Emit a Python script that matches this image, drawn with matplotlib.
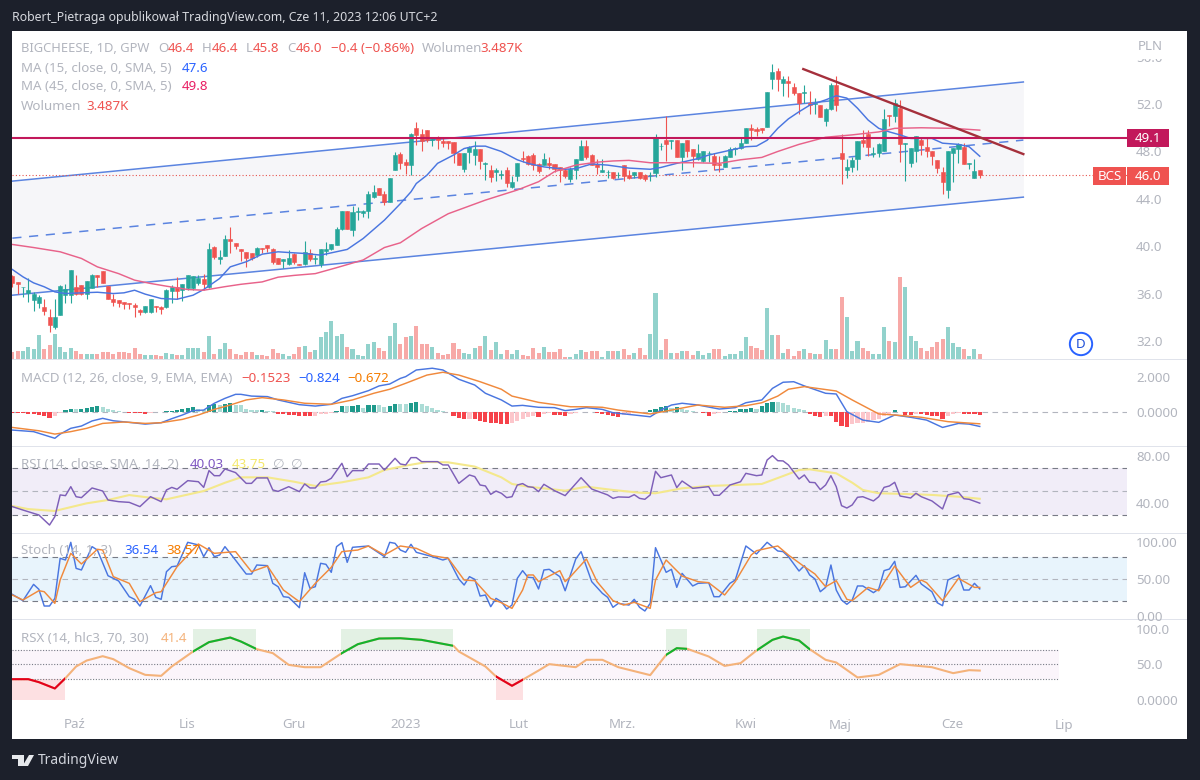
import matplotlib
matplotlib.use("Agg")
from matplotlib import pyplot as plt
from matplotlib.patches import Rectangle, Polygon

plt.rcParams['font.family'] = ['Noto Sans', 'DejaVu Sans']

GREEN = '#26a69a'
RED = '#ef5350'
GREY = '#b2b5be'

# candles
opens = [37.5, 37.0, 36.55, 36.1, 35.5, 35.2, 34.9, 34.0, 33.2, 34.2, 35.9, 35.9, 36.6, 36.7, 36.0, 36.5, 37.55, 37.9, 36.65, 35.55,
         35.45, 35.3, 35.25, 35.05, 34.6, 34.45, 34.5, 35.0, 34.9, 34.9, 36.2, 36.6, 36.3, 36.45, 36.5, 36.9, 37.25, 36.6, 39.95, 38.95,
         39.15, 40.6, 40.25, 39.8, 39.55, 39.45, 39.25, 39.9, 40.1, 39.75, 39.0, 38.8, 38.5, 39.35, 38.5, 38.5, 39.4, 38.95, 38.55, 39.6,
         39.75, 40.15, 41.45, 43.0, 41.4, 42.9, 42.85, 42.95, 44.2, 44.95, 44.4, 43.7, 46.45, 47.75, 47.1, 46.9, 49.95, 49.47, 49.8, 48.95,
         49.15, 48.9, 48.88, 48.8, 47.9, 46.5, 47.95, 47.7, 48.2, 46.95, 46.45, 46.25, 46.0, 46.45, 45.0, 45.9, 47.45, 47.6, 47.7, 46.95,
         46.9, 47.0, 46.95, 46.65, 46.4, 45.7, 46.45, 47.3, 48.45, 47.7, 46.95, 46.3, 46.25, 46.3, 46.0, 46.9, 46.05, 46.0, 46.25, 46.0,
         45.98, 46.15, 48.45, 48.95, 48.9, 48.95, 47.5, 48.95, 48.2, 47.35, 47.2, 47.85, 47.65, 46.95, 46.7, 47.55, 48.25, 48.3, 48.75, 50.0,
         49.9, 49.95, 50.1, 54.15, 54.8, 53.75, 53.95, 53.4, 52.95, 52.95, 52.1, 52.0, 51.95, 50.55, 51.55, 53.6, 47.9, 46.45, 46.65, 47.35,
         49.0, 49.5, 47.8, 47.9, 48.05, 51.1, 51.0, 51.65, 48.65, 47.0, 48.0, 48.95, 48.4, 48.0, 47.25, 46.3, 44.75, 47.9, 48.2, 48.4,
         46.95, 45.75, 46.4]
highs = [37.6, 37.0, 36.6, 37.3, 36.15, 35.9, 35.6, 34.75, 35.6, 36.7, 36.85, 38.0, 37.55, 36.75, 37.1, 37.7, 37.6, 37.9, 36.65, 36.0,
         35.5, 35.3, 35.25, 35.2, 34.75, 34.95, 35.6, 35.0, 34.95, 36.4, 36.7, 37.4, 36.8, 37.6, 37.5, 37.55, 37.7, 40.25, 40.0, 39.7,
         40.95, 41.65, 40.25, 39.8, 39.55, 39.45, 39.95, 39.9, 40.15, 39.9, 39.0, 38.9, 39.7, 39.4, 38.55, 40.45, 39.8, 39.25, 39.75, 40.4,
         40.2, 41.65, 43.0, 43.0, 43.4, 43.3, 43.05, 44.7, 45.2, 44.95, 44.7, 45.75, 47.95, 47.95, 47.35, 49.6, 50.45, 49.87, 49.8, 49.2,
         49.3, 49.1, 48.9, 48.8, 47.9, 47.85, 48.45, 48.9, 48.2, 47.1, 46.9, 46.6, 46.4, 46.7, 45.9, 47.0, 48.0, 47.7, 47.85, 47.0,
         47.9, 47.55, 46.95, 46.65, 46.5, 46.65, 47.35, 48.95, 48.95, 47.75, 47.4, 47.4, 46.45, 46.3, 46.3, 46.9, 46.45, 46.3, 46.25, 46.1,
         46.25, 49.45, 48.75, 50.95, 49.0, 49.0, 48.7, 48.95, 48.25, 48.6, 48.0, 48.0, 47.85, 47.65, 47.7, 48.35, 48.4, 49.1, 50.0, 50.3,
         50.1, 49.95, 53.0, 55.35, 55.0, 54.35, 54.35, 53.75, 52.95, 53.6, 53.1, 52.55, 51.95, 51.65, 53.8, 54.35, 49.45, 47.35, 47.5, 48.9,
         49.8, 49.8, 48.4, 48.7, 51.6, 51.1, 52.4, 52.35, 48.7, 48.3, 49.3, 49.1, 49.25, 48.0, 47.25, 46.7, 48.0, 48.3, 48.7, 48.75,
         47.0, 47.35, 46.4]
lows = [36.6, 36.0, 35.7, 35.3, 34.55, 34.8, 34.2, 32.8, 33.0, 34.2, 35.2, 35.2, 35.9, 35.9, 35.6, 36.45, 36.6, 36.9, 35.55, 35.0,
        34.9, 34.75, 34.7, 34.05, 34.2, 34.4, 34.4, 34.45, 34.3, 34.8, 35.2, 35.6, 35.4, 36.3, 36.3, 36.7, 36.35, 36.5, 38.95, 38.55,
        39.15, 39.4, 39.8, 38.8, 38.3, 38.85, 39.1, 39.4, 39.55, 38.55, 38.5, 38.15, 38.4, 38.55, 38.4, 38.4, 38.8, 38.55, 38.3, 39.25,
        39.7, 40.1, 41.4, 41.5, 40.85, 42.2, 42.5, 42.35, 44.1, 44.3, 43.5, 43.7, 46.45, 46.55, 46.1, 46.0, 48.55, 48.03, 48.8, 48.45,
        48.25, 48.4, 48.25, 47.0, 46.85, 46.3, 47.0, 46.9, 46.5, 45.6, 45.4, 45.55, 45.7, 45.0, 44.95, 45.5, 47.1, 46.85, 46.45, 46.15,
        46.85, 46.5, 46.3, 45.45, 45.8, 45.45, 45.65, 47.3, 47.4, 46.85, 46.1, 46.3, 45.8, 45.65, 45.75, 45.55, 45.7, 45.75, 45.7, 45.5,
        45.55, 45.87, 48.1, 47.2, 48.25, 47.5, 46.45, 47.5, 46.7, 47.3, 47.15, 47.15, 46.4, 46.3, 46.7, 47.5, 47.7, 48.25, 48.7, 49.0,
        49.3, 49.6, 50.1, 53.3, 53.1, 52.65, 52.6, 52.75, 51.2, 52.1, 51.2, 51.2, 50.9, 50.15, 51.5, 51.4, 45.25, 45.8, 46.3, 46.45,
        48.4, 47.6, 47.5, 47.5, 48.05, 50.15, 50.5, 47.15, 45.5, 46.7, 47.15, 47.7, 47.55, 46.85, 46.15, 44.45, 44.1, 45.45, 47.0, 46.95,
        46.5, 45.75, 45.8]
closes = [36.9, 36.8, 36.6, 36.3, 36.0, 35.7, 34.55, 33.35, 34.0, 36.65, 36.4, 38.0, 36.0, 36.0, 37.05, 37.6, 37.4, 36.9, 35.6, 35.3,
          35.2, 35.1, 35.1, 34.9, 34.45, 34.95, 35.6, 34.85, 34.75, 36.3, 36.6, 36.25, 36.8, 37.6, 37.5, 37.3, 36.8, 39.75, 39.1, 39.1,
          40.6, 40.45, 40.0, 39.6, 39.0, 39.0, 39.9, 39.75, 39.9, 38.7, 38.5, 38.9, 39.0, 38.7, 38.45, 39.5, 38.9, 39.05, 39.75, 39.8,
          40.2, 41.5, 43.0, 41.5, 42.9, 43.0, 43.0, 44.45, 44.6, 44.3, 43.75, 45.75, 47.7, 47.0, 46.9, 49.45, 49.4, 48.9, 48.97, 49.05,
          49.0, 48.7, 48.75, 47.85, 46.85, 47.85, 48.35, 48.2, 47.2, 47.0, 45.85, 46.45, 46.1, 45.3, 45.45, 47.0, 47.35, 46.95, 46.9, 46.35,
          47.35, 46.9, 46.5, 46.4, 45.9, 46.55, 47.35, 48.45, 47.55, 46.9, 46.65, 46.4, 46.3, 45.75, 46.05, 45.9, 45.8, 46.25, 45.75, 45.65,
          46.05, 49.2, 48.5, 48.6, 48.95, 47.5, 48.7, 48.05, 47.6, 47.9, 48.0, 47.9, 46.9, 46.9, 47.6, 48.25, 48.3, 48.7, 49.95, 49.85,
          49.7, 49.85, 53.0, 54.7, 54.1, 54.1, 53.75, 52.9, 52.05, 53.0, 51.95, 52.05, 50.9, 51.6, 53.6, 51.9, 47.35, 46.65, 47.3, 48.9,
          48.75, 48.35, 47.9, 48.6, 50.75, 51.0, 52.05, 48.6, 48.7, 48.3, 49.3, 48.55, 48.0, 47.6, 46.6, 45.45, 48.0, 48.3, 48.6, 46.95,
          47.0, 46.35, 46.0]

# volume in thousands
volume = [4.8, 5.4, 5.4, 8.0, 6.5, 15.7, 6.5, 9.1, 16.3, 7.6, 4.3, 7.0, 5.4, 3.3, 3.3, 3.3, 3.3, 4.3, 4.3, 3.3,
          4.3, 4.3, 3.9, 7.0, 3.3, 2.8, 2.8, 2.8, 1.7, 3.9, 3.3, 2.6, 2.6, 7.0, 7.0, 7.4, 4.8, 15.2, 3.3, 6.5,
          10.4, 6.5, 3.3, 2.6, 4.3, 4.3, 2.6, 2.6, 2.2, 6.5, 3.9, 3.3, 2.2, 3.3, 7.6, 8.7, 4.3, 6.1, 14.1, 17.4,
          25.0, 15.2, 16.3, 8.0, 6.5, 2.6, 2.2, 9.8, 10.9, 7.0, 5.4, 15.2, 23.5, 9.8, 14.6, 15.2, 21.7, 9.8, 9.8, 8.0,
          3.7, 2.6, 3.3, 10.2, 6.3, 4.1, 3.3, 7.0, 8.5, 15.0, 5.9, 11.3, 3.3, 5.9, 3.3, 5.7, 2.6, 2.0, 7.0, 3.7,
          8.0, 4.6, 4.3, 6.3, 1.1, 1.5, 3.3, 5.9, 4.3, 5.4, 5.2, 1.5, 5.4, 5.2, 5.2, 6.3, 2.4, 3.7, 7.0, 2.6,
          16.3, 43.3, 5.9, 12.8, 3.7, 3.7, 5.0, 5.0, 2.6, 5.0, 2.6, 3.7, 6.5, 6.5, 2.0, 3.3, 3.3, 5.0, 14.6, 8.7,
          7.4, 5.9, 33.0, 15.7, 15.7, 4.1, 6.3, 2.0, 5.0, 6.3, 3.7, 3.3, 3.3, 12.4, 6.3, 6.3, 40.7, 27.6, 5.0, 11.9,
          7.0, 5.0, 3.3, 3.3, 20.7, 11.9, 10.9, 53.3, 46.8, 15.3, 11.9, 7.0, 5.4, 8.1, 11.0, 12.8, 21.2, 10.3, 7.6, 6.3,
          2.0, 6.3, 3.487]

# moving averages, vertices of the lines
ma15_x = [0, 2, 4, 6, 8, 10, 13, 16, 19, 21, 23, 25, 28, 31, 34, 36, 39, 41, 44, 47, 50, 52, 55, 58, 63, 66, 70, 73, 75, 76, 78,
          80, 83, 85, 87, 89, 92, 95, 97, 100, 104, 106, 109, 112, 116, 120, 122, 125, 129, 131, 135, 138, 140, 142, 144, 146, 148,
          150, 153, 155, 157, 159, 161, 163, 165, 167, 169, 173, 175, 178, 180, 182]
ma15_y = [38.05, 37.43, 36.92, 36.59, 36.16, 36.02, 36.08, 36.13, 36.02, 36.08, 36.3, 35.97, 35.6, 35.54, 35.88, 36.36, 37.29, 38.27,
          38.7, 39.34, 39.54, 39.48, 39.4, 39.26, 39.74, 40.66, 42.21, 43.6, 44.6, 45.3, 46.0, 47.0, 47.7, 48.25, 48.45, 48.45, 48.0,
          47.3, 47.0, 46.7, 46.5, 46.55, 46.95, 46.85, 46.6, 46.5, 46.65, 47.0, 47.4, 47.7, 48.1, 48.4, 48.45, 48.95, 49.95, 50.75, 51.35,
          51.9, 52.35, 52.7, 52.5, 51.65, 50.65, 49.95, 49.65, 49.4, 49.1, 49.1, 48.7, 48.6, 48.4, 47.6]
ma45_x = [0, 4, 9, 13, 16, 20, 23, 26, 29, 33, 36, 40, 43, 47, 50, 53, 57, 61, 66, 70, 73, 77, 82, 89, 95, 99, 102, 106, 110, 113,
          116, 120, 124, 128, 133, 137, 141, 144, 148, 153, 158, 163, 166, 171, 177, 182]
ma45_y = [40.16, 39.9, 39.54, 38.98, 38.27, 37.7, 37.15, 36.87, 36.64, 36.36, 36.3, 36.6, 36.8, 37.0, 37.4, 37.55, 37.7, 38.2, 38.85,
          39.9, 40.3, 41.5, 42.75, 43.9, 44.75, 45.45, 46.3, 46.85, 47.1, 47.2, 47.25, 47.05, 47.05, 47.05, 47.0, 47.3, 47.5, 48.0, 48.6,
          49.2, 49.4, 49.65, 49.95, 50.0, 49.95, 49.8]

# drawn channel and trend line: idx, price
channel_x = [0, 190.2]
channel_up = [45.5, 53.86]
channel_mid = [40.69, 48.96]
channel_low = [35.88, 44.15]
trend_x = [148.8, 190.2]
trend_y = [54.95, 47.78]
level_price = 49.1
last_price = 46.0

# MACD
macd_x = [0, 4, 6, 8, 9, 11, 13, 15, 17, 19, 22, 25, 28, 30, 32, 34, 36, 38, 40, 42, 43, 45, 48, 50, 54, 57, 60, 62, 64, 67, 69, 71,
          73, 74, 76, 79, 81, 84, 87, 89, 92, 94, 96, 99, 102, 104, 106, 108, 111, 113, 117, 120, 122, 124, 126, 129, 133, 136, 138, 141,
          143, 145, 147, 149, 153, 155, 157, 160, 163, 166, 169, 172, 175, 178, 180, 182]
macd_y = [-1.03, -1.12, -1.31, -1.5, -1.26, -0.93, -0.8, -0.51, -0.36, -0.5, -0.59, -0.69, -0.61, -0.38, -0.17, 0.08, 0.11, 0.5, 0.78,
          1.01, 1.01, 0.91, 0.88, 0.69, 0.42, 0.34, 0.44, 0.78, 0.93, 1.22, 1.49, 1.6, 1.92, 2.02, 2.4, 2.5, 2.4, 1.87, 1.54, 1.07, 0.69,
          0.34, 0.38, 0.27, 0.25, 0.08, 0.15, 0.25, 0.15, -0.04, -0.17, -0.27, 0.11, 0.4, 0.5, 0.4, 0.17, 0.25, 0.53, 0.69, 1.35, 1.7, 1.73,
          1.49, 1.07, 1.03, 0.02, -0.46, -0.59, -0.17, -0.3, -0.46, -0.88, -0.65, -0.69, -0.824]
signal_x = [0, 5, 8, 11, 14, 17, 21, 25, 28, 32, 35, 38, 41, 44, 47, 51, 55, 60, 64, 68, 71, 74, 78, 81, 84, 88, 92, 94, 99, 105, 108,
            111, 114, 120, 124, 129, 134, 138, 141, 144, 146, 149, 155, 158, 163, 166, 171, 176, 182]
signal_y = [-0.88, -1.07, -1.26, -1.12, -0.93, -0.65, -0.57, -0.65, -0.61, -0.42, -0.17, 0.15, 0.4, 0.69, 0.82, 0.69, 0.5, 0.44, 0.69,
            1.07, 1.3, 1.64, 2.11, 2.27, 2.11, 1.73, 1.3, 0.91, 0.55, 0.3, 0.3, 0.27, 0.11, -0.11, 0.11, 0.4, 0.27, 0.36, 0.53, 0.91, 1.3,
            1.45, 1.2, 0.69, -0.11, -0.17, -0.3, -0.55, -0.672]
macd_hist = [-.04, -.04, -.04, -.1, -.12, -.15, -.2, -.33, -.2, -.06, .12, .19, .18, .18, .23, .27, .35, .27, .19, .1,
             .06, 0, -.03, -.06, -.06, -.1, -.04, -.02, .01, .03, .06, .12, .19, .23, .3, .2, .1, .42, .45, .38,
             .45, .5, .42, .38, .2, .13, .1, .1, .08, .03, -.1, -.13, -.15, -.17, -.2, -.25, -.25, -.2, -.1, -.09,
             -.03, .05, .37, .35, .37, .38, .25, .38, .39, .38, .3, .35, .45, .44, .43, .5, .55, .45, .35, .25,
             .1, .05, .02, -.2, -.35, -.4, -.39, -.41, -.5, -.55, -.6, -.65, -.66, -.67, -.6, -.5, -.4, -.3, -.2, -.3,
             -.1, -.08, -.18, -.19, -.25, -.1, -.03, .02, .01, 0, -.08, -.1, -.15, -.25, -.26, -.15, -.1, -.08, -.05, -.02,
             .1, .2, .3, .35, .25, .26, .15, .1, .05, .02, -.08, -.2, -.1, -.05, .02, .04, .08, .15, .2, .21,
             .15, .35, .5, .6, .59, .5, .4, .25, .15, .1, -.1, -.2, -.3, -.2, -.25, -.55, -.8, -.85, -.7, -.65,
             -.6, -.55, -.45, -.4, -.2, -.1, .1, -.02, -.15, -.16, -.1, -.12, -.15, -.2, -.25, -.4, -.2, -.1, -.05, -.1,
             -.12, -.14, -.1523]

# RSI
rsi_x = [0, 2, 5, 7, 8, 9, 10, 11, 12, 13, 15, 17, 18, 20, 22, 24, 26, 28, 29, 30, 31, 33, 35, 36, 37, 38, 39, 40, 42, 44, 45, 46, 48,
         49, 50, 52, 54, 55, 56, 57, 58, 59, 60, 62, 63, 64, 66, 67, 69, 70, 72, 73, 74, 75, 76, 77, 80, 81, 82, 84, 86, 87, 88, 89, 90,
         91, 92, 93, 94, 95, 96, 97, 98, 99, 100, 102, 104, 107, 109, 112, 113, 114, 116, 117, 118, 119, 120, 121, 122, 124, 125, 126, 128,
         131, 132, 133, 135, 137, 138, 140, 141, 142, 143, 144, 145, 146, 148, 149, 150, 151, 152, 153, 154, 155, 156, 157, 158, 159, 160,
         162, 163, 164, 165, 166, 167, 169, 170, 171, 173, 175, 176, 178, 179, 180, 182]
rsi_y = [37.1, 34.2, 30, 21.5, 28.6, 47, 46.4, 54, 45.5, 44.7, 52.9, 50.3, 42.7, 41.3, 40.7, 37.1, 45.5, 41.3, 51.2, 53.4, 51.8, 59.1, 58.2,
         53.4, 67.6, 63.3, 63.3, 69, 65.9, 56.8, 56.8, 61.4, 61.4, 51.2, 50, 54, 49.8, 56.3, 52.9, 52.9, 58, 58.5, 61.1, 73.8, 62.5, 67.6,
         67.6, 73.2, 73.2, 68.1, 78, 73.2, 72.4, 78.6, 78.6, 75.2, 75.2, 72.4, 72.4, 56.8, 63.9, 62.5, 55.4, 54.6, 47.5, 50.3, 48.4, 44.7,
         45.5, 55.4, 56.6, 54, 53.4, 49.8, 56, 50.6, 46.4, 61.6, 52, 47, 44.1, 45.3, 45, 47.2, 44.1, 43.3, 47, 67, 61.6, 63.9, 53.2, 58.8,
         52.6, 54, 46.7, 46.7, 55.4, 58.2, 65.3, 63.3, 63.9, 76.6, 80.3, 76, 75.8, 72.4, 60.5, 63.9, 57.7, 57.4, 51.5, 55.4, 63.3, 54, 37.9,
         35.9, 38.5, 45, 45.5, 41.9, 45.5, 53.4, 54.6, 57.7, 46.1, 44.4, 48.4, 45.5, 41.9, 35.1, 47, 49.2, 43.8, 43.3, 40.03]
rsi_ma_x = [0, 3, 8, 10, 14, 18, 22, 26, 29, 32, 36, 40, 43, 48, 53, 57, 62, 67, 70, 74, 78, 82, 87, 92, 94, 97, 104, 108, 113, 118, 121,
            126, 131, 136, 141, 145, 148, 150, 155, 158, 160, 163, 168, 173, 178, 182]
rsi_ma_y = [37.6, 35, 33.4, 35.6, 39.9, 42.7, 46.9, 44.6, 43.3, 46.3, 50.3, 57.3, 61.9, 61.9, 58.2, 54.6, 57.7, 61.9, 68.1, 71.8, 74.9, 74.6,
            71, 61.9, 56.3, 54, 50.6, 54, 51.2, 48.9, 48.4, 52.6, 54.6, 55.4, 56.3, 63, 68.1, 68.7, 65.3, 57.4, 51.2, 48.4, 47.8, 47, 45.5, 43.75]

# Stochastic
stoch_k_x = [0, 2, 4, 5, 6, 7, 8, 9, 10, 11, 12, 13, 15, 16, 18, 19, 20, 22, 23, 24, 26, 27, 28, 29, 30, 31, 33, 35, 36, 37, 38, 39, 40, 41,
             44, 45, 46, 48, 49, 50, 51, 52, 54, 55, 56, 57, 58, 59, 60, 61, 62, 63, 64, 67, 70, 71, 72, 73, 74, 75, 76, 79, 81, 82, 84, 85,
             86, 87, 88, 89, 90, 91, 92, 93, 94, 95, 96, 97, 98, 99, 100, 101, 103, 104, 106, 107, 109, 111, 112, 113, 114, 116, 117, 118,
             119, 120, 121, 123, 124, 125, 126, 128, 129, 131, 132, 133, 135, 136, 138, 140, 142, 144, 145, 146, 148, 149, 150, 151, 152,
             153, 154, 155, 156, 157, 158, 159, 160, 162, 163, 164, 165, 166, 167, 168, 170, 171, 173, 174, 175, 176, 178, 179, 180, 181, 182]
stoch_k_y = [29.1, 20.5, 42.7, 35.9, 13.2, 13.2, 23.6, 78.2, 75.9, 100, 64.5, 62.3, 94.1, 89.5, 54.5, 50.9, 47.3, 25.9, 22.3, 13.2, 40.9, 25,
             22.3, 60, 66.8, 67.7, 100, 96.4, 80.5, 92.7, 80.5, 82.7, 94.1, 85, 56.8, 56.8, 69.1, 68.2, 44.1, 39.5, 25.9, 25, 10.9, 58.6, 37.3,
             39.5, 71.4, 70, 59.1, 94.1, 99.5, 72.7, 93.2, 95, 80.5, 100, 98.6, 89.5, 86.4, 97.3, 86.4, 80.5, 75.9, 78.2, 50, 41.8, 53.2, 49.5,
             26.8, 28.2, 12.3, 23.6, 19.1, 9.1, 14.5, 50.9, 61.4, 52.3, 51.8, 36.4, 62.3, 63.2, 53.2, 34, 77.3, 87.3, 46.4, 30.5, 25, 11.4, 16.8,
             14.5, 22.3, 11.4, 6.4, 16.8, 92.7, 59.1, 63.2, 38.6, 57.7, 40.5, 44.1, 45, 25.9, 25.9, 44.1, 48.6, 95, 84.1, 100, 88.2, 87.3, 80.5,
             60.9, 68.2, 55.5, 50, 32.7, 38.6, 69.1, 35, 21.4, 15.5, 21.4, 40.5, 40.5, 31.4, 36.4, 61.4, 63.6, 74.1, 38.6, 39.5, 55, 43.2, 32.7,
             17.7, 13.6, 48.6, 55.5, 35, 35, 44.1, 36.54]
stoch_d_x = [0, 2, 5, 6, 8, 9, 11, 13, 16, 17, 19, 22, 24, 27, 28, 31, 35, 38, 42, 45, 48, 51, 54, 57, 60, 62, 65, 67, 70, 73, 76, 79, 82, 85,
             87, 90, 92, 94, 96, 97, 98, 99, 101, 103, 104, 105, 108, 110, 113, 115, 117, 120, 121, 123, 126, 129, 131, 134, 136, 139, 140, 144,
             146, 149, 151, 153, 155, 157, 158, 161, 163, 166, 169, 171, 172, 175, 178, 181, 182]
stoch_d_y = [28.2, 21.4, 34.1, 32.7, 16.8, 48.6, 85, 70.5, 90.5, 89.5, 53.2, 44.1, 19.1, 31.4, 32.7, 66.8, 97.7, 85, 87.3, 60, 67.7, 35, 19.1,
             44.1, 65.9, 87.3, 89.5, 95, 82.7, 95, 91.8, 81.8, 78.2, 48.6, 47.7, 23.6, 17.7, 10, 35, 55.5, 55.5, 46.4, 54, 61.4, 46.4, 53.2, 77.3,
             46.4, 20.5, 14.5, 18.2, 10, 48.6, 75.9, 54, 46.4, 45, 28.2, 46.4, 82.7, 88.6, 95, 82.7, 66.8, 56.8, 39.5, 47.7, 22.3, 20.5, 38.6, 34,
             67.7, 38.6, 48.6, 45, 20.5, 50.9, 38.6, 38.57]

# RSX
rsx_x = [0, 3, 5, 8, 10, 12, 14, 17, 19, 22, 25, 28, 30, 34, 37, 41, 43, 46, 49, 52, 55, 58, 62, 65, 69, 73, 77, 83, 84, 89, 91, 94, 96, 99,
         101, 106, 108, 111, 114, 120, 123, 125, 127, 131, 134, 137, 140, 143, 145, 148, 150, 153, 155, 159, 163, 167, 173, 177, 180, 182]
rsx_y = [29.3, 29.3, 25.1, 16.2, 30.8, 47.2, 55.6, 61.7, 57.5, 44.8, 35.4, 34, 47.2, 68.3, 81.5, 88, 82.4, 71.6, 66, 49.5, 46.2, 46.2, 66,
         78.6, 86.6, 87, 84.7, 76.3, 68.3, 47.2, 33.1, 20, 28.4, 41.5, 50.5, 46.2, 56.6, 56.6, 46.2, 35, 63.6, 73, 72, 61.3, 48, 51.9, 69.7,
         84.7, 89.4, 83.8, 71.6, 56.6, 52.8, 31.7, 35.4, 50.5, 46.2, 37.8, 42, 41.4]
rsx_green = [(33.9, 45.8), (61.8, 82.9), (123, 127), (140, 150)]
rsx_red = [(-0.06, 9.9), (91, 96.1)]

# axis labels
price_ticks = [32, 36, 40, 44, 48, 52, 56]
month_pos = [11.8, 32.9, 53, 73.9, 95.2, 114.7, 137.9, 155.7, 176.8, 197.9]
month_names = ['Paź', 'Lis', 'Gru', '2023', 'Lut', 'Mrz.', 'Kwi', 'Maj', 'Cze', 'Lip']

fig = plt.figure(figsize=(12, 7.8), dpi=100, facecolor='#1c202b')
x_limits = (-0.06, 209.7)


def px_x(x):
    return x / 1200


def px_y(y):
    return 1 - y / 780


def px_rect(x0, y0, x1, y1, color, z=-1):
    fig.add_artist(Rectangle((px_x(x0), px_y(y1)), (x1 - x0) / 1200, (y1 - y0) / 780, transform=fig.transFigure,
                             facecolor=color, edgecolor='none', zorder=z))


def px_text(x, y, s, color=GREY, size=9.6, **kw):
    kw.setdefault('va', 'center')
    return fig.text(px_x(x), px_y(y), s, color=color, fontsize=size, zorder=6, **kw)


def make_pane(top, bottom, ylim, ticks, labels):
    ax = fig.add_axes([px_x(12), px_y(bottom), (1127 - 12) / 1200, (bottom - top) / 780])
    ax.patch.set_visible(False)
    ax.set_xlim(x_limits)
    ax.set_ylim(ylim)
    for s in ax.spines.values():
        s.set_visible(False)
    ax.yaxis.tick_right()
    ax.set_yticks(ticks)
    ax.set_yticklabels(labels, color=GREY, fontsize=9.6)
    ax.tick_params(axis='y', length=0, pad=6.5)
    ax.set_xticks([])
    return ax


# chart panel
px_rect(12, 31, 1187, 739, 'white', -2)
for y in [359.5, 446, 533, 619]:
    px_rect(12, y - 0.5, 1187, y + 0.7, '#e0e3eb')

# volume sits on its own hidden scale behind the candles
vol_ax = fig.add_axes([px_x(12), px_y(359), (1127 - 12) / 1200, (359 - 31) / 780])
vol_ax.set_xlim(x_limits)
vol_ax.set_ylim(0, 214)
vol_ax.axis('off')
vol_colors = ['#92d2cc' if c >= o else '#f7a9a7' for o, c in zip(opens, closes)]
vol_ax.bar(range(len(volume)), volume, width=0.76, color=vol_colors)

# main pane
ax = make_pane(31, 359, (30.5, 58.16), price_ticks, ['%.1f' % t for t in price_ticks])
ax.fill_between(channel_x, channel_low, channel_up, color='#f6f6f9', lw=0, zorder=1)
ax.plot(channel_x, channel_up, color='#5b84e0', lw=1.1, zorder=2)
ax.plot(channel_x, channel_low, color='#5b84e0', lw=1.1, zorder=2)
ax.plot(channel_x, channel_mid, color='#5b84e0', lw=1.1, ls=(0, (6, 5)), zorder=2)
ax.axhline(last_price, color='#e8554f', lw=0.8, ls=(0, (1, 2)), zorder=2)

for i in range(len(closes)):
    col = GREEN if closes[i] >= opens[i] else RED
    ax.vlines(i, lows[i], highs[i], color=col, lw=0.8, zorder=3)
    ax.bar(i, abs(closes[i] - opens[i]), bottom=min(opens[i], closes[i]), width=0.76, color=col, edgecolor=col, lw=0.4, zorder=3)

ax.plot(ma15_x, ma15_y, color='#4a76e0', lw=1.05, zorder=4)
ax.plot(ma45_x, ma45_y, color='#e8628a', lw=1.05, zorder=4)
ax.axhline(level_price, color='#c2185b', lw=1.5, zorder=5)
ax.plot(trend_x, trend_y, color='#a5303c', lw=1.7, zorder=5)

# MACD pane
macd_ax = make_pane(360, 446, (-1.94, 2.97), [0, 2], ['0.0000', '2.000'])
macd_ax.axhline(0, color='#b2b5be', lw=0.8, ls=(0, (5, 4)), zorder=1)
hist_colors = []
prev = 0
for v in macd_hist:
    if v >= 0:
        hist_colors.append('#1f9a8c' if v >= prev else '#acdcd6')
    else:
        hist_colors.append('#f6424a' if v <= prev else '#fcc6cb')
    prev = v
macd_ax.bar(range(len(macd_hist)), macd_hist, width=0.78, color=hist_colors, zorder=2)
macd_ax.plot(macd_x, macd_y, color='#4a76e0', lw=1.05, zorder=3)
macd_ax.plot(signal_x, signal_y, color='#f0893c', lw=1.05, zorder=3)

# RSI pane
rsi_ax = make_pane(447, 533, (14.75, 87.6), [40, 80], ['40.00', '80.00'])
rsi_ax.axhspan(30, 70, color='#f1edf8', lw=0, zorder=1)
for v in [30, 50, 70]:
    rsi_ax.axhline(v, color='#787b86' if v != 50 else '#b2b5be', lw=0.8, ls=(0, (5, 4)), zorder=2)
rsi_ax.plot(rsi_ma_x, rsi_ma_y, color='#f4e88c', lw=1.5, zorder=3)
rsi_ax.plot(rsi_x, rsi_y, color='#7e5fb8', lw=1.05, zorder=4)

# Stochastic pane
stoch_ax = make_pane(533, 619, (-4.5, 112.7), [0, 50, 100], ['0.00', '50.00', '100.00'])
stoch_ax.axhspan(20, 80, color='#e8f4fc', lw=0, zorder=1)
for v in [20, 50, 80]:
    stoch_ax.axhline(v, color='#787b86' if v != 50 else '#b2b5be', lw=0.8, ls=(0, (5, 4)), zorder=2)
stoch_ax.plot(stoch_k_x, stoch_k_y, color='#4a76e0', lw=1.05, zorder=3)
stoch_ax.plot(stoch_d_x, stoch_d_y, color='#f0893c', lw=1.05, zorder=4)

# RSX pane
rsx_end = 196.9
rsx_ax = make_pane(620, 706, (-8.5, 112.7), [0, 50, 100], ['0.0000', '50.0', '100.0'])
rsx_ax.fill_between([x_limits[0], rsx_end], 30, 70, color='#fbf5fb', lw=0, zorder=1)
rsx_ax.hlines([30, 50, 70], x_limits[0], rsx_end, color='#787b86', lw=0.8, ls=(0, (1, 1.5)), zorder=2)
for x0, x1 in rsx_green:
    rsx_ax.fill_between([x0, x1], 70, 100, color='#e3f1e4', lw=0, zorder=1)
for x0, x1 in rsx_red:
    rsx_ax.fill_between([x0, x1], 0, 30, color='#fde0e2', lw=0, zorder=1)
rsx_ax.plot(rsx_x, rsx_y, color='#f4b27a', lw=1.5, zorder=3)
for spans, col in [(rsx_green, '#12b32e'), (rsx_red, '#e3001b')]:
    for x0, x1 in spans:
        part, = rsx_ax.plot(rsx_x, rsx_y, color=col, lw=1.5, zorder=4)
        part.set_clip_path(Rectangle((x0, -8.5), x1 - x0, 121.2, transform=rsx_ax.transData))

rsx_ax.set_xticks(month_pos)
rsx_ax.set_xticklabels(month_names, color=GREY, fontsize=9.6)
rsx_ax.tick_params(axis='x', length=0, pad=9)
rsx_ax.get_xticklabels()[3].set_fontweight('bold')

# price labels
px_rect(1127, 129, 1169, 147, '#c2185b', 5)
px_text(1148, 138, '%.1f' % level_price, color='white', ha='center', weight='bold', size=9.6)
px_rect(1093, 167, 1126, 185, RED, 5)
px_text(1109.5, 176, 'BCS', color='white', ha='center')
px_rect(1127, 167, 1169, 185, RED, 5)
px_text(1148, 176, '%.1f' % last_price, color='white', ha='center', weight='bold', size=9.6)
px_rect(1128, 38, 1175, 59, 'white', 5)
px_text(1150, 46, 'PLN', ha='center')

# legends
px_text(12, 18, 'Robert_Pietraga opublikował TradingView.com, Cze 11, 2023 12:06 UTC+2', color='#d6d8de', size=8.9)
px_text(21, 49, 'BIGCHEESE, 1D, GPW', size=9.3)
for x, s in [(158, 'O'), (202, 'H'), (246, 'L'), (287, 'C'), (422, 'Wolumen')]:
    px_text(x, 49, s)
for x, s in [(168, '46.4'), (212, '46.4'), (253, '45.8'), (296, '46.0'), (331, '−0.4 (−0.86%)'), (480, '3.487K')]:
    px_text(x, 49, s, color=RED)
px_text(21, 68, 'MA (15, close, 0, SMA, 5)')
px_text(182, 68, '47.6', color='#2962ff')
px_text(21, 87, 'MA (45, close, 0, SMA, 5)')
px_text(182, 87, '49.8', color='#e91e63')
px_text(21, 106, 'Wolumen')
px_text(86, 106, '3.487K', color=RED)
px_text(21, 378, 'MACD (12, 26, close, 9, EMA, EMA)')
px_text(241, 378, '−0.1523', color=RED)
px_text(298, 378, '−0.824', color='#2962ff')
px_text(347, 378, '−0.672', color='#f57c00')
px_text(21, 465, 'RSI (14, close, SMA, 14, 2)')
px_text(190, 465, '40.03', color='#7e57c2')
px_text(232, 465, '43.75', color='#f5e96b')
px_text(273, 465, '∅')
px_text(291, 465, '∅')
px_text(21, 551, 'Stoch (14, 1, 3)')
px_text(124, 551, '36.54', color='#2962ff')
px_text(166, 551, '38.57', color='#f57c00')
px_text(21, 638, 'RSX (14, hlc3, 70, 30)')
px_text(161, 638, '41.4', color='#f4b27a')

# D marker
px_text(1081, 344, 'D', color='#1e4fd8', ha='center', weight='bold', size=9.6,
        bbox=dict(boxstyle='circle,pad=0.35', facecolor='white', edgecolor='#2962ff', lw=1.4))

# footer
logo = [[(12, 755), (24, 755), (24, 766), (18, 766), (18, 759), (12, 759)],
        [(29, 755), (34, 755), (28, 766), (22.5, 766)]]
for pts in logo:
    fig.add_artist(Polygon([(px_x(x), px_y(y)) for x, y in pts], transform=fig.transFigure, facecolor='#e6e8ec', edgecolor='none'))
px_text(38, 760, 'TradingView', color='#d1d4dc', size=10)

plt.savefig('out.png', dpi=100, facecolor=fig.get_facecolor())
